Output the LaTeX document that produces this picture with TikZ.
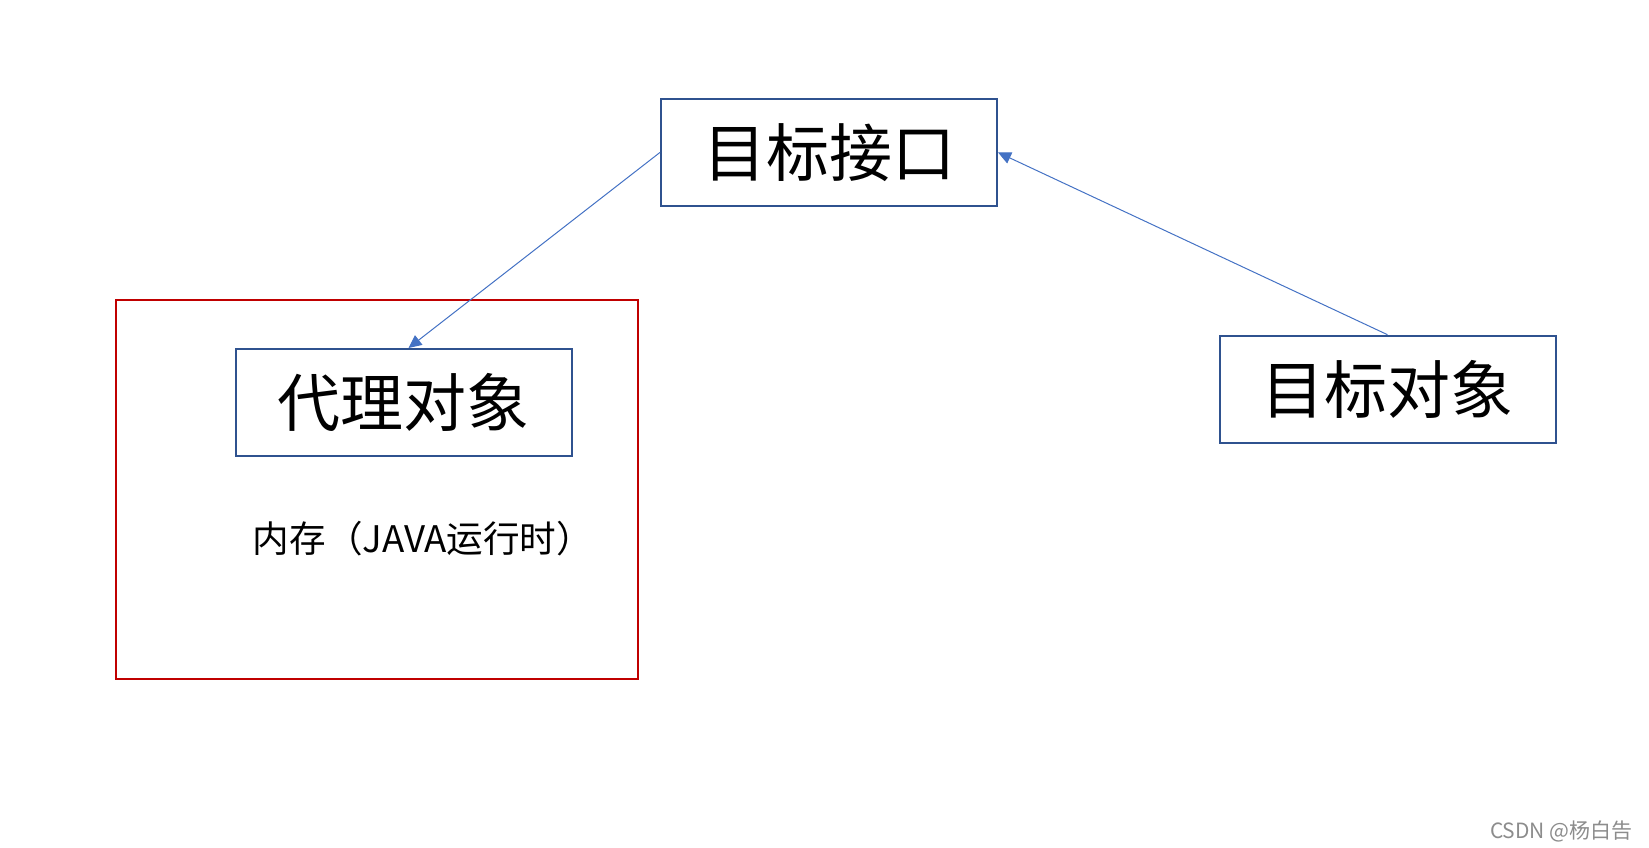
\documentclass[tikz,border=0pt]{standalone}
\usepackage{fontspec}
\newfontfamily\cjk{Noto Sans CJK SC}
\usetikzlibrary{arrows.meta}
\usetikzlibrary{positioning}

\definecolor{boxblue}{RGB}{47,82,143}
\definecolor{lineblue}{RGB}{68,114,196}
\definecolor{memred}{RGB}{192,0,0}

\begin{document}
\begin{tikzpicture}[
    x=0.5pt, y=-0.5pt,
    box/.style={draw=boxblue, line width=1pt, minimum width=168pt, minimum height=53.5pt, inner sep=0pt, font=\cjk\fontsize{31.5}{31.5}\selectfont},
    link/.style={draw=lineblue, line width=0.5pt, -{Triangle[length=6.5pt,width=6pt]}},
    memory/.style={draw=memred, line width=1pt, minimum width=261pt, minimum height=189.5pt, inner sep=0pt}
  ]
    \useasboundingbox (0,0) rectangle (1649,847);
    % memory region
    \node[memory] (mem) at (377,489.5) {};
    \node[font=\cjk\fontsize{18.3}{18.3}\selectfont] (memlabel) at (423,538.5) {内存（JAVA运行时）};
    % boxes
    \node[box] (iface) at (829,152.4) {目标接口};
    \node[box] (proxy) at (403.5,402.5) {代理对象};
    \node[box] (target) at (1387.5,389.2) {目标对象};
    % links
    \draw[link] (iface.west) -- ([xshift=2.5pt]proxy.north);
    \draw[link] (target.north) -- (iface.east);
    % watermark
    \node[font=\cjk\fontsize{10.5}{10.5}\selectfont, text=black!45, anchor=east, inner sep=0pt] (mark) at (1633,831) {CSDN @杨白告};
\end{tikzpicture}
\end{document}
